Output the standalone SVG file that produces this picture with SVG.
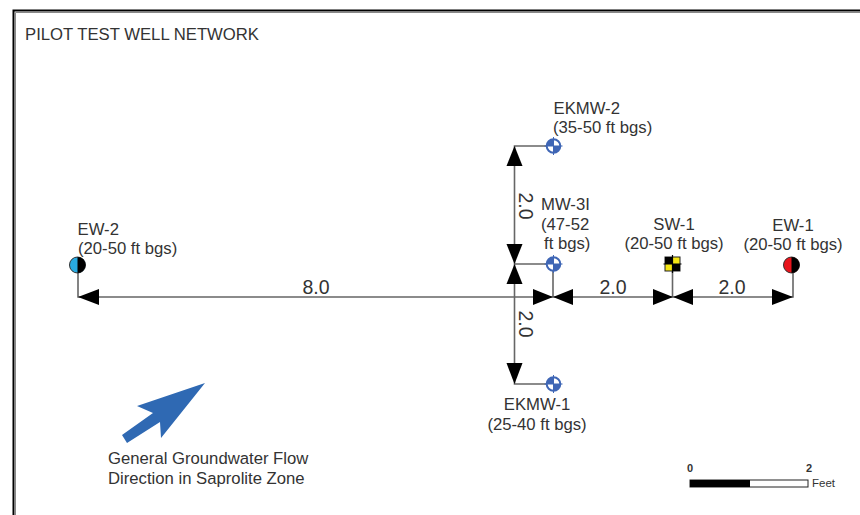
<svg xmlns="http://www.w3.org/2000/svg" width="860" height="515" viewBox="0 0 860 515">
<defs>
<style>
text{font-family:"Liberation Sans",Arial,sans-serif;fill:#333;font-size:16.7px}
.c{text-anchor:middle}
.dim{font-size:19.5px}
.lead{fill:none;stroke:#666;stroke-width:1.6}
.ah{fill:#000}
.mw{fill:#fff;stroke:#3f66b5;stroke-width:2}
.q{fill:#3f66b5}
</style>
<g id="mwSym">
<circle class="mw" r="6.800"/>
<path class="q" d="M0 0V-6.800A6.800 6.800 0 0 0 -6.800 0ZM0 0V6.800A6.800 6.800 0 0 0 6.800 0Z"/>
<path d="M-9 0H9M0 -9V9" stroke="#3f66b5" stroke-width="1"/>
</g>
</defs>
<rect width="860" height="515" fill="#fff"/>
<g id="frame" fill="none">
<path d="M13.500 515V10.500H860" stroke="#000" stroke-width="2"/>
<path d="M15.500 515V12.500H860" stroke="#888" stroke-width="1"/>
</g>
<text id="title" x="25" y="40">PILOT TEST WELL NETWORK</text>
<g id="connectors">
<path class="lead" d="M78 272V297H793V272"/>
<path class="lead" d="M553 146H514.500V384H553"/>
<path class="lead" d="M514.500 264H553V297"/>
<path class="lead" d="M672.500 271V297"/>
<path class="ah" d="M78 297L99 289V305Z"/>
<path class="ah" d="M553 297L533 289V305Z"/>
<path class="ah" d="M553 297L573 289V305Z"/>
<path class="ah" d="M673 297L653 289V305Z"/>
<path class="ah" d="M673 297L693 289V305Z"/>
<path class="ah" d="M793 297L772 289V305Z"/>
<path class="ah" d="M514.500 146L506.500 166H522.500Z"/>
<path class="ah" d="M514.500 264L506.500 244H522.500Z"/>
<path class="ah" d="M514.500 264L506.500 284H522.500Z"/>
<path class="ah" d="M514.500 384L506.500 363H522.500Z"/>
<text class="c dim" x="316" y="294">8.0</text>
<text class="c dim" x="613" y="294">2.0</text>
<text class="c dim" x="732" y="294">2.0</text>
<text class="c dim" transform="translate(519 206) rotate(90)">2.0</text>
<text class="c dim" transform="translate(519 324) rotate(90)">2.0</text>
</g>
<g id="EKMW-2">
<use href="#mwSym" x="553.500" y="146"/>
<text x="553.500" y="114">EKMW-2</text>
<text x="553" y="133">(35-50 ft bgs)</text>
</g>
<g id="MW-3I">
<use href="#mwSym" x="553.500" y="264"/>
<text x="541" y="210">MW-3I</text>
<text x="541" y="230">(47-52</text>
<text x="544" y="249">ft bgs)</text>
</g>
<g id="EKMW-1">
<use href="#mwSym" x="553.500" y="384"/>
<text class="c" x="537" y="410">EKMW-1</text>
<text class="c" x="537" y="430">(25-40 ft bgs)</text>
</g>
<g id="SW-1">
<rect x="665" y="257" width="15" height="14" fill="#f5e614" stroke="#222" stroke-width="1"/>
<path d="M665 257h7.500v7h-7.500zM672.500 264h7.500v7h-7.500z" fill="#000"/>
<path d="M672.500 255v18M663.500 264h18" stroke="#000" stroke-width="1.200"/>
<text class="c" x="674" y="230">SW-1</text>
<text class="c" x="674" y="249">(20-50 ft bgs)</text>
</g>
<g id="EW-1">
<circle cx="791.500" cy="265" r="8" fill="#e8141c" stroke="#333"/>
<path d="M791.500 257A8 8 0 0 1 791.500 273Z" fill="#000"/>
<text class="c" x="793" y="231">EW-1</text>
<text class="c" x="793" y="250">(20-50 ft bgs)</text>
</g>
<g id="EW-2">
<circle cx="77.500" cy="265" r="8" fill="#29abe2" stroke="#333"/>
<path d="M77.500 257A8 8 0 0 1 77.500 273Z" fill="#000"/>
<text x="77.500" y="235">EW-2</text>
<text x="78" y="254">(20-50 ft bgs)</text>
</g>
<g id="flow">
<path d="M205 383L137 406L153 413L122 435L127 443L160 422L161 438Z" fill="#2f69b3"/>
<text x="108" y="464">General Groundwater Flow</text>
<text x="108" y="484">Direction in Saprolite Zone</text>
</g>
<g id="scale">
<rect x="690" y="480" width="118" height="7" fill="#fff" stroke="#222" stroke-width="1"/>
<rect x="690" y="480" width="60" height="7" fill="#000"/>
<text class="c" x="690" y="472" style="font-size:11px;font-weight:bold">0</text>
<text class="c" x="809" y="472" style="font-size:11px;font-weight:bold">2</text>
<text x="812" y="487" style="font-size:11.500px">Feet</text>
</g>
</svg>
